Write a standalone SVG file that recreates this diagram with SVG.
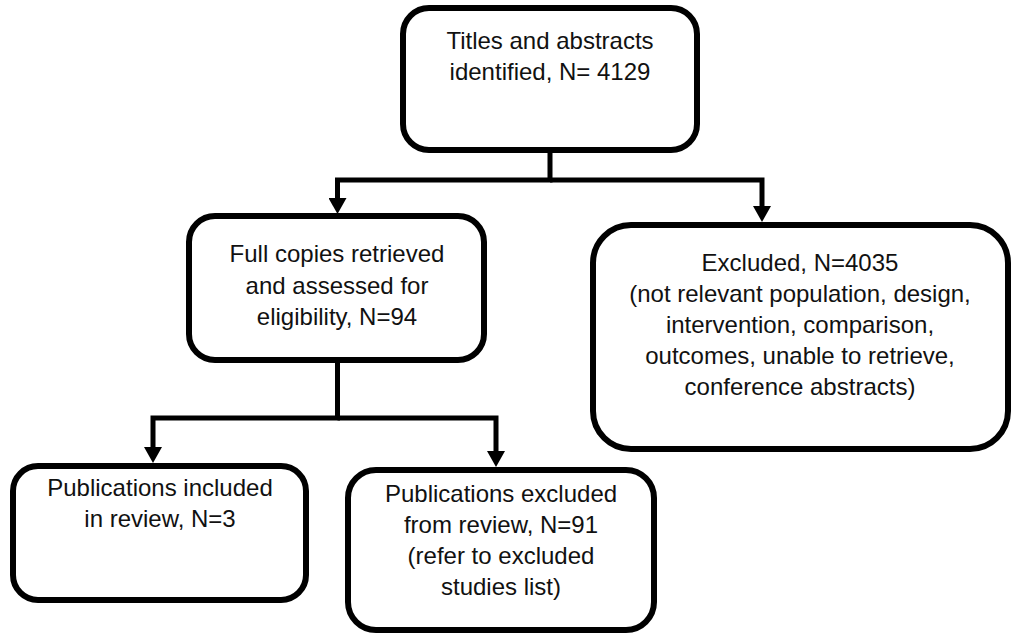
<svg xmlns="http://www.w3.org/2000/svg" width="1012" height="634" viewBox="0 0 1012 634">
<style>
.box{fill:#fff;stroke:#000;stroke-width:6}
.t{font-family:"Liberation Sans",Arial,sans-serif;font-size:24px;fill:#111;text-anchor:middle}
.c{fill:none;stroke:#000;stroke-width:5;stroke-linejoin:miter}
</style>
<defs>
<marker id="ah" viewBox="0 0 16 18" refX="0" refY="9" markerWidth="16" markerHeight="18" markerUnits="userSpaceOnUse" orient="auto">
<path d="M0 0 L16 9 L0 18 Z" fill="#000"/>
</marker>
</defs>
<rect width="1012" height="634" fill="#fff"/>
<g id="connectors">
<path class="c" d="M550 150 V180 H337.5 V198" marker-end="url(#ah)"/>
<path class="c" d="M550 180 H762 V206" marker-end="url(#ah)"/>
<path class="c" d="M337.5 360 V418 H153 V447" marker-end="url(#ah)"/>
<path class="c" d="M337.5 418 H496 V451" marker-end="url(#ah)"/>
</g>
<g id="titles">
<rect class="box" x="403" y="8" width="294" height="142" rx="26"/>
<text class="t" x="550" y="49">Titles and abstracts</text>
<text class="t" x="550" y="80">identified, N= 4129</text>
</g>
<g id="fullcopies">
<rect class="box" x="189" y="216" width="295" height="144" rx="26"/>
<text class="t" x="337" y="262">Full copies retrieved</text>
<text class="t" x="337" y="294">and assessed for</text>
<text class="t" x="337" y="325">eligibility, N=94</text>
</g>
<g id="excluded">
<rect class="box" x="593" y="225" width="415" height="224" rx="38"/>
<text class="t" x="800" y="271">Excluded, N=4035</text>
<text class="t" x="800" y="302">(not relevant population, design,</text>
<text class="t" x="800" y="333">intervention, comparison,</text>
<text class="t" x="800" y="364">outcomes, unable to retrieve,</text>
<text class="t" x="800" y="395">conference abstracts)</text>
</g>
<g id="included">
<rect class="box" x="13" y="466" width="293" height="134" rx="25"/>
<text class="t" x="160" y="496">Publications included</text>
<text class="t" x="160" y="527">in review, N=3</text>
</g>
<g id="pubexcluded">
<rect class="box" x="348" y="470" width="306" height="160" rx="28"/>
<text class="t" x="501" y="502">Publications excluded</text>
<text class="t" x="501" y="533">from review, N=91</text>
<text class="t" x="501" y="564">(refer to excluded</text>
<text class="t" x="501" y="595">studies list)</text>
</g>
</svg>
